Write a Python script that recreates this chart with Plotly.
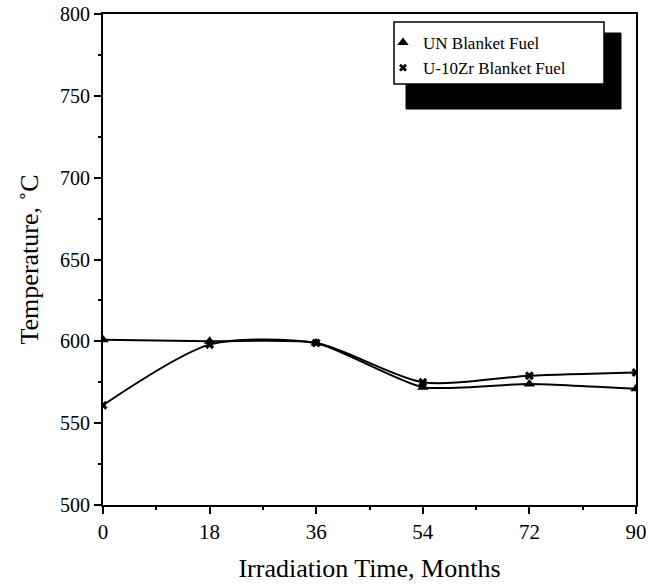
import plotly.graph_objects as go

months = [0, 18, 36, 54, 72, 90]
un_temp = [601, 600, 599, 572, 574, 571]
uzr_temp = [561, 598, 599, 575, 579, 581]

x_ticks = [0, 18, 36, 54, 72, 90]
y_ticks = [500, 550, 600, 650, 700, 750, 800]
y_tick_text = ["500", "550", "600", "650", "700", "750", "800"]

FONT = "Liberation Serif"

fig = go.Figure()
fig.add_trace(go.Scatter(
    x=months, y=un_temp, mode="lines+markers",
    line=dict(color="black", width=2, shape="spline", smoothing=0.6),
    marker=dict(symbol="triangle-up", size=10, color="black"),
    showlegend=False,
))
fig.add_trace(go.Scatter(
    x=months, y=uzr_temp, mode="lines+markers",
    line=dict(color="black", width=2, shape="spline", smoothing=0.75),
    marker=dict(symbol="x", size=8, color="black"),
    showlegend=False,
))
# legend entries
fig.add_trace(go.Scatter(x=[None], y=[None], mode="markers", name="UN Blanket Fuel",
                         marker=dict(symbol="triangle-up", size=10, color="black")))
fig.add_trace(go.Scatter(x=[None], y=[None], mode="markers", name="U-10Zr Blanket Fuel",
                         marker=dict(symbol="x", size=7, color="black")))

W, H = 658, 584
L, R, T, B = 103, 22, 14, 79
pw, ph = W - L - R, H - T - B


def px(xp):
    return (xp - L) / pw


def py(yp):
    return (H - B - yp) / ph


fig.add_shape(type="rect", xref="paper", yref="paper",
              x0=px(406), x1=px(621), y0=py(109), y1=py(33),
              fillcolor="black", line=dict(color="black", width=1))
fig.add_shape(type="rect", xref="paper", yref="paper",
              x0=px(394), x1=px(604), y0=py(84), y1=py(22),
              fillcolor="white", line=dict(color="black", width=1.5))

fig.update_layout(
    width=W, height=H,
    margin=dict(l=L, r=R, t=T, b=B),
    paper_bgcolor="white", plot_bgcolor="white",
    font=dict(family=FONT, color="black", size=19),
    legend=dict(x=px(383), y=py(25), xanchor="left", yanchor="top",
                bgcolor="rgba(0,0,0,0)", font=dict(family=FONT, size=17, color="black"),
                itemwidth=30, tracegroupgap=0),
    xaxis=dict(
        range=[0, 90], tickvals=x_ticks, ticktext=[str(v) for v in x_ticks],
        showgrid=False, zeroline=False, showline=True, linecolor="black", linewidth=2,
        mirror=True, ticks="outside", ticklen=7, tickwidth=2, tickcolor="black",
        minor=dict(dtick=9, ticks="outside", ticklen=3, tickwidth=1.5, tickcolor="black"),
        title=dict(text="Irradiation Time, Months", font=dict(size=26), standoff=16),
        tickfont=dict(size=21), automargin=False,
    ),
    yaxis=dict(
        range=[500, 800], tickvals=y_ticks, ticktext=y_tick_text,
        showgrid=False, zeroline=False, showline=True, linecolor="black", linewidth=2,
        mirror=True, ticks="outside", ticklen=7, tickwidth=2, tickcolor="black",
        minor=dict(dtick=25, ticks="outside", ticklen=3, tickwidth=1.5, tickcolor="black"),
        title=dict(text="Temperature, ˚C", font=dict(size=26), standoff=14),
        tickfont=dict(size=20), automargin=False,
    ),
)

fig.write_html("out.html")
